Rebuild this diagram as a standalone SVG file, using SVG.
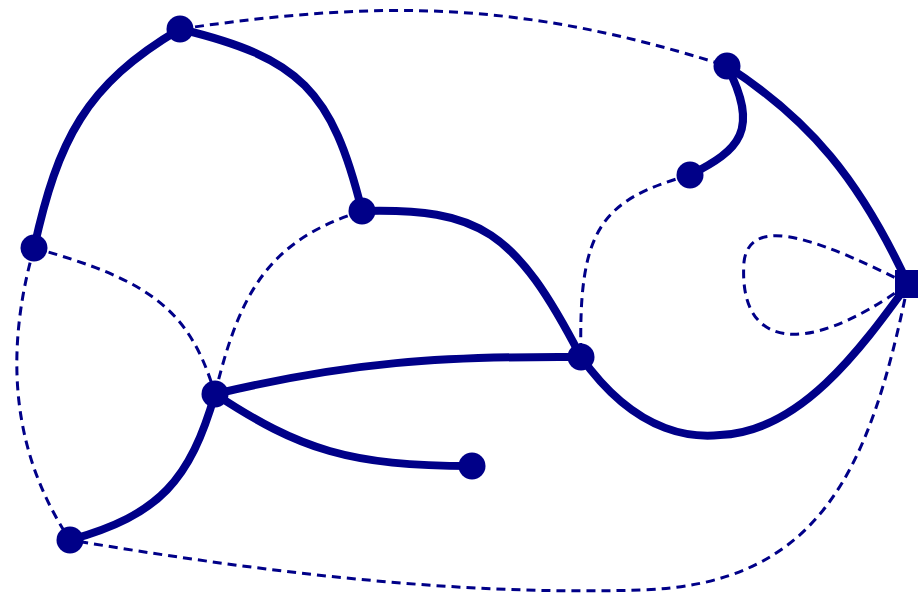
<svg xmlns="http://www.w3.org/2000/svg" width="918" height="595" viewBox="0 0 918 595">
<style>
.s{fill:none;stroke:#000088;stroke-width:8;stroke-linecap:round}
.d{fill:none;stroke:#000088;stroke-width:3;stroke-dasharray:9,6}
.n{fill:#000088}
</style>
<rect width="918" height="595" fill="#fff"/>
<g id="connectors">
<path class="d" d="M180,29 C380,0 520,0 727,66"/>
<path class="d" d="M34,248 C150,280 190,310 215,394"/>
<path class="d" d="M34,248 C5,350 10,450 70,540"/>
<path class="d" d="M362,211 C270,240 240,290 215,394"/>
<path class="d" d="M690,175 C600,200 578,230 581,357"/>
<path class="d" d="M908,284 C830,245 750,210 744,262 C738,345 800,362 908,284"/>
<path class="d" d="M908,284 C870,470 820,585 640,590 C450,596 250,570 70,540"/>
<path class="s" d="M34,248 C58,140 85,85 180,29"/>
<path class="s" d="M180,29 C300,58 332,90 362,211"/>
<path class="s" d="M362,211 C480,208 515,230 581,357"/>
<path class="s" d="M581,357 C640,440 700,437 720,435 C800,432 860,350 908,284"/>
<path class="s" d="M908,284 C860,180 810,120 727,66"/>
<path class="s" d="M727,66 C760,130 740,150 690,175"/>
<path class="s" d="M215,394 C350,362 440,356 581,357"/>
<path class="s" d="M215,394 C300,450 350,466 472,466"/>
<path class="s" d="M215,394 C190,480 160,515 70,540"/>
</g>
<g id="nA"><circle class="n" cx="180" cy="29" r="13.5"/></g>
<g id="nB"><circle class="n" cx="727" cy="66" r="13.5"/></g>
<g id="nC"><circle class="n" cx="690" cy="175" r="13.5"/></g>
<g id="nD"><circle class="n" cx="362" cy="211" r="13.5"/></g>
<g id="nE"><circle class="n" cx="34" cy="248" r="13.5"/></g>
<g id="nF"><rect class="n" x="895" y="270" width="28" height="28"/></g>
<g id="nG"><circle class="n" cx="581" cy="357" r="13.5"/></g>
<g id="nH"><circle class="n" cx="215" cy="394" r="13.5"/></g>
<g id="nI"><circle class="n" cx="472" cy="466" r="13.5"/></g>
<g id="nJ"><circle class="n" cx="70" cy="540" r="13.5"/></g>
</svg>
